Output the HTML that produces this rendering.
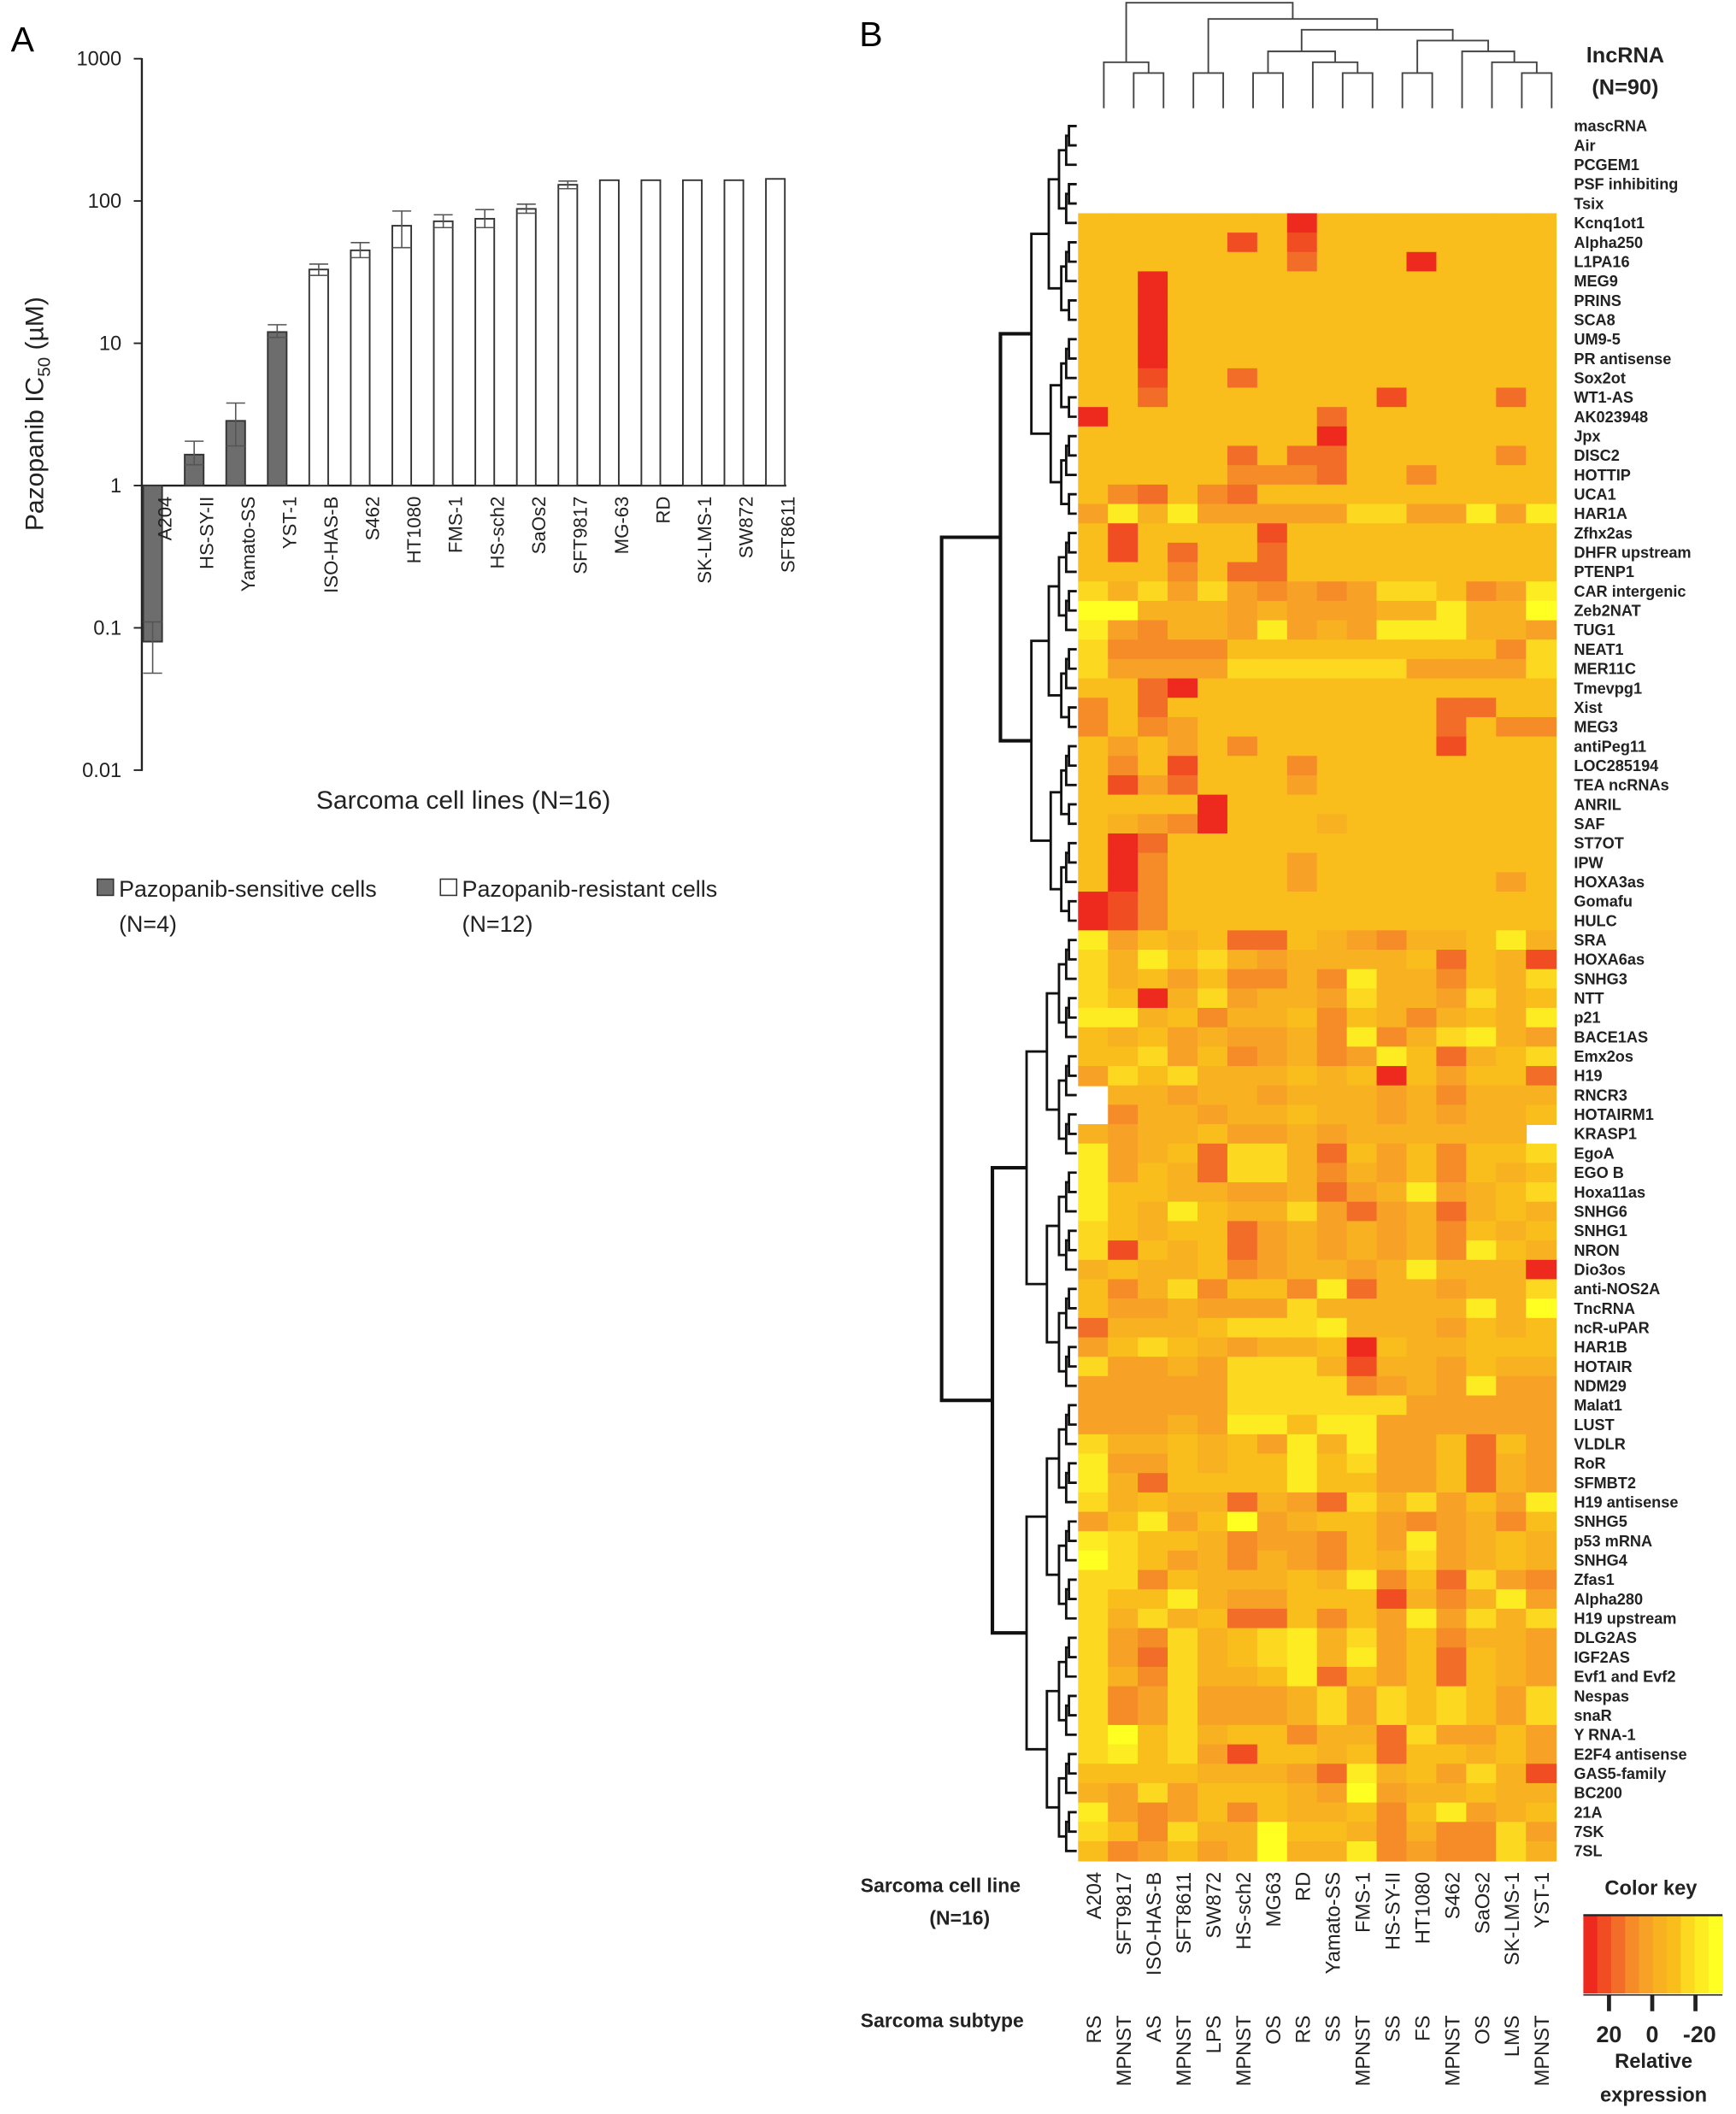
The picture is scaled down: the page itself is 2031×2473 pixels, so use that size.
<!DOCTYPE html>
<html><head><meta charset="utf-8"><style>
html,body{margin:0;padding:0;background:#fff;}
svg{display:block;}
text{font-family:"Liberation Sans",sans-serif;}
</style></head><body>
<svg id="fig" width="2031" height="2473" viewBox="0 0 1285 1563" preserveAspectRatio="none" xmlns="http://www.w3.org/2000/svg">
<rect width="1285" height="1563" fill="#fff"/>
<g id="pa"></g>
<g id="pb"></g>
</svg>
<script>
// ---------- Panel A data ----------
const cellLines = ["A204","HS-SY-II","Yamato-SS","YST-1","ISO-HAS-B","S462","HT1080","FMS-1","HS-sch2","SaOs2","SFT9817","MG-63","RD","SK-LMS-1","SW872","SFT8611"];
const ic50 = [0.08,1.65,2.85,12,33,45,67,72,75,88,130,140,140,140,140,143];
const errHi = [0.11,2.05,3.8,13.5,36,51,85,80,87,95,138,140,140,140,140,143];
const errLo = [0.048,1.4,1.9,11,30,40,47,65,65,82,122,140,140,140,140,143];
const sensitive = [1,1,1,1,0,0,0,0,0,0,0,0,0,0,0,0];
const yTicks = [1000,100,10,1,0.1,0.01];
const yTickLabels = ["1000","100","10","1","0.1","0.01"];

// ---------- Panel B data ----------
const hmCols = ["A204","SFT9817","ISO-HAS-B","SFT8611","SW872","HS-sch2","MG63","RD","Yamato-SS","FMS-1","HS-SY-II","HT1080","S462","SaOs2","SK-LMS-1","YST-1"];
const hmSubtypes = ["RS","MPNST","AS","MPNST","LPS","MPNST","OS","RS","SS","MPNST","SS","FS","MPNST","OS","LMS","MPNST"];
const hmRows = ["mascRNA","Air","PCGEM1","PSF inhibiting","Tsix","Kcnq1ot1","Alpha250","L1PA16","MEG9","PRINS","SCA8","UM9-5","PR antisense","Sox2ot","WT1-AS","AK023948","Jpx","DISC2","HOTTIP","UCA1","HAR1A","Zfhx2as","DHFR upstream","PTENP1","CAR intergenic","Zeb2NAT","TUG1","NEAT1","MER11C","Tmevpg1","Xist","MEG3","antiPeg11","LOC285194","TEA ncRNAs","ANRIL","SAF","ST7OT","IPW","HOXA3as","Gomafu","HULC","SRA","HOXA6as","SNHG3","NTT","p21","BACE1AS","Emx2os","H19","RNCR3","HOTAIRM1","KRASP1","EgoA","EGO B","Hoxa11as","SNHG6","SNHG1","NRON","Dio3os","anti-NOS2A","TncRNA","ncR-uPAR","HAR1B","HOTAIR","NDM29","Malat1","LUST","VLDLR","RoR","SFMBT2","H19 antisense","SNHG5","p53 mRNA","SNHG4","Zfas1","Alpha280","H19 upstream","DLG2AS","IGF2AS","Evf1 and Evf2","Nespas","snaR","Y RNA-1","E2F4 antisense","GAS5-family","BC200","21A","7SK","7SL"];
// expression level 0 (yellow, low) .. 9 (red, high); -1 = missing
const hmVals = [
[-1,-1,-1,-1,-1,-1,-1,-1,-1,-1,-1,-1,-1,-1,-1,-1],
[-1,-1,-1,-1,-1,-1,-1,-1,-1,-1,-1,-1,-1,-1,-1,-1],
[-1,-1,-1,-1,-1,-1,-1,-1,-1,-1,-1,-1,-1,-1,-1,-1],
[-1,-1,-1,-1,-1,-1,-1,-1,-1,-1,-1,-1,-1,-1,-1,-1],
[-1,-1,-1,-1,-1,-1,-1,-1,-1,-1,-1,-1,-1,-1,-1,-1],
[3,3,3,3,3,3,3,9,3,3,3,3,3,3,3,3],
[3,3,3,3,3,8,3,8,3,3,3,3,3,3,3,3],
[3,3,3,3,3,3,3,7,3,3,3,9,3,3,3,3],
[3,3,9,3,3,3,3,3,3,3,3,3,3,3,3,3],
[3,3,9,3,3,3,3,3,3,3,3,3,3,3,3,3],
[3,3,9,3,3,3,3,3,3,3,3,3,3,3,3,3],
[3,3,9,3,3,3,3,3,3,3,3,3,3,3,3,3],
[3,3,9,3,3,3,3,3,3,3,3,3,3,3,3,3],
[3,3,8,3,3,7,3,3,3,3,3,3,3,3,3,3],
[3,3,7,3,3,3,3,3,3,3,8,3,3,3,7,3],
[9,3,3,3,3,3,3,3,7,3,3,3,3,3,3,3],
[3,3,3,3,3,3,3,3,9,3,3,3,3,3,3,3],
[3,3,3,3,3,7,3,7,7,3,3,3,3,3,6,3],
[3,3,3,3,3,6,6,6,7,3,3,6,3,3,3,3],
[3,6,7,3,6,7,3,3,3,3,3,3,3,3,3,3],
[5,1,4,1,5,5,5,5,5,2,2,5,5,1,5,1],
[3,8,3,3,3,3,8,3,3,3,3,3,3,3,3,3],
[3,8,3,7,3,3,7,3,3,3,3,3,3,3,3,3],
[3,3,3,6,3,7,7,3,3,3,3,3,3,3,3,3],
[2,4,2,5,2,5,6,5,6,5,2,2,3,6,5,1],
[0,0,4,4,4,5,4,5,5,5,4,4,1,4,4,0],
[1,5,6,4,4,5,1,5,4,5,1,1,1,4,4,5],
[2,6,6,6,6,3,3,3,3,3,3,3,3,3,6,2],
[2,5,5,5,5,2,2,2,2,2,2,5,5,5,5,2],
[3,3,7,9,3,3,3,3,3,3,3,3,3,3,3,3],
[6,3,7,3,3,3,3,3,3,3,3,3,7,7,3,3],
[6,3,6,5,3,3,3,3,3,3,3,3,7,3,6,6],
[3,5,3,5,3,6,3,3,3,3,3,3,8,3,3,3],
[3,6,3,8,3,3,3,6,3,3,3,3,3,3,3,3],
[3,8,5,7,3,3,3,5,3,3,3,3,3,3,3,3],
[3,3,3,3,9,3,3,3,3,3,3,3,3,3,3,3],
[3,4,5,6,9,3,3,3,4,3,3,3,3,3,3,3],
[3,9,7,3,3,3,3,3,3,3,3,3,3,3,3,3],
[3,9,6,3,3,3,3,5,3,3,3,3,3,3,3,3],
[3,9,6,3,3,3,3,5,3,3,3,3,3,3,5,3],
[9,8,6,3,3,3,3,3,3,3,3,3,3,3,3,3],
[9,8,6,3,3,3,3,3,3,3,3,3,3,3,3,3],
[1,5,3,4,3,7,7,3,4,5,6,4,4,3,1,4],
[2,4,1,3,2,4,5,4,4,4,4,3,7,3,4,8],
[2,4,3,5,3,6,6,4,6,1,4,4,6,3,4,2],
[2,3,9,4,2,5,4,4,5,2,4,4,5,2,4,3],
[1,1,4,3,6,4,4,3,6,3,4,6,4,3,4,1],
[3,4,3,5,4,5,5,4,6,1,6,4,2,1,4,5],
[3,3,2,5,3,6,5,4,6,5,1,3,7,4,3,2],
[5,2,3,2,4,4,4,3,4,3,9,3,5,3,3,7],
[-1,4,4,5,4,4,5,4,4,4,5,4,6,4,4,4],
[-1,6,4,4,5,4,4,3,4,4,5,4,5,4,4,3],
[4,5,4,4,3,5,5,4,5,4,4,4,4,4,4,-1],
[1,5,4,3,7,2,2,4,7,3,5,3,6,3,3,2],
[1,5,3,4,7,2,2,4,6,4,5,3,6,3,4,3],
[1,3,3,4,4,5,5,4,7,5,4,1,5,4,3,2],
[1,3,4,1,3,4,4,2,5,7,5,4,7,4,3,4],
[2,3,4,3,3,7,5,4,5,4,5,4,6,3,4,3],
[2,8,3,4,3,7,5,4,5,4,5,4,6,1,3,4],
[4,3,4,4,3,6,5,4,4,5,4,1,4,4,4,9],
[3,6,4,2,6,3,3,6,1,7,4,4,5,4,4,2],
[3,5,5,4,5,5,5,2,4,4,4,4,4,1,4,0],
[7,4,4,4,3,2,2,2,1,4,4,4,5,3,4,3],
[5,3,2,3,4,5,4,4,3,9,3,4,4,3,3,3],
[2,5,5,4,5,2,2,2,4,8,4,4,5,3,4,4],
[5,5,5,5,5,2,2,2,2,6,5,4,5,1,5,5],
[5,5,5,5,5,2,2,2,2,2,2,5,5,5,5,5],
[5,5,5,4,5,1,1,3,1,1,5,5,5,5,5,5],
[2,4,4,3,4,3,5,1,4,1,5,5,3,7,3,5],
[1,5,5,3,4,3,3,1,3,2,5,5,3,7,4,5],
[1,4,7,3,3,3,3,1,3,3,5,5,3,7,4,5],
[2,4,3,4,4,7,4,5,7,2,4,2,5,3,5,1],
[5,3,1,5,3,0,5,4,3,3,5,6,5,4,6,3],
[1,2,3,3,4,6,5,5,6,3,5,1,5,4,3,4],
[0,2,3,5,4,6,4,5,6,3,4,2,5,4,3,4],
[2,2,6,3,4,4,4,3,4,1,6,3,7,2,5,6],
[2,3,3,1,4,5,5,3,3,3,8,4,6,4,1,5],
[2,4,2,4,3,7,7,3,6,3,5,1,5,2,4,2],
[2,5,6,2,4,3,2,1,4,2,5,3,6,4,4,5],
[2,5,7,2,4,3,2,1,4,1,5,3,7,3,4,5],
[2,4,6,2,4,4,3,1,7,3,5,3,7,3,4,5],
[2,6,5,2,5,5,5,4,2,5,2,3,2,3,5,2],
[2,6,5,2,5,5,5,4,2,5,2,3,2,3,5,2],
[2,0,3,2,4,3,3,6,4,4,7,2,5,5,3,5],
[2,1,3,2,5,8,3,3,4,3,7,3,3,4,3,5],
[3,3,3,3,4,4,4,5,7,1,4,3,5,2,4,8],
[4,5,2,5,3,3,3,4,5,0,5,4,4,3,4,4],
[1,5,6,5,3,6,3,4,4,3,6,3,1,5,4,3],
[2,3,6,2,4,4,0,3,3,4,6,4,6,6,2,5],
[3,6,5,3,5,4,0,4,4,1,6,5,6,6,2,4]
];
const keyTicks = [20,0,-20];

const NS="http://www.w3.org/2000/svg";
function mk(parent,tag,attrs,txt){const e=document.createElementNS(NS,tag);for(const k in attrs)e.setAttribute(k,attrs[k]);if(txt!==undefined)e.textContent=txt;parent.appendChild(e);return e;}
const pa=document.getElementById('pa'), pb=document.getElementById('pb');

// ===== Panel A =====
const yA = v => 359 - 105.2*Math.log10(v);
const xA = i => 113 + i*30.73;
let t=mk(pa,'text',{x:8,y:38,'font-size':26});t.textContent='A';


mk(pa,'line',{x1:105,y1:43,x2:105,y2:570,stroke:'#222','stroke-width':1.5});
mk(pa,'line',{x1:105,y1:359,x2:582,y2:359,stroke:'#222','stroke-width':1.5});
yTicks.forEach((v,i)=>{
  const y=yA(v);
  mk(pa,'line',{x1:99,y1:y,x2:105,y2:y,stroke:'#222','stroke-width':1.2});
  const tl=mk(pa,'text',{x:90,y:y+5,'font-size':15,'text-anchor':'end',fill:'#222'},yTickLabels[i]);
  
  
});
t=mk(pa,'text',{transform:'translate(32,306) rotate(-90)','font-size':19,'text-anchor':'middle',fill:'#222'});
t.innerHTML='Pazopanib IC<tspan font-size="13" dy="5">50</tspan><tspan dy="-5"> (µM)</tspan>';


cellLines.forEach((n,i)=>{
  const cx=xA(i), v=ic50[i], y=yA(v), base=359;
  const r=mk(pa,'rect',{x:cx-7,y:Math.min(y,base),width:14,height:Math.abs(base-y),fill:sensitive[i]?'#6d6d6d':'#fff',stroke:'#333','stroke-width':1.2});
  
  
  const yh=yA(errHi[i]), yl=yA(errLo[i]);
  if(Math.abs(yh-yl)>0.5){
    mk(pa,'line',{x1:cx,y1:yh,x2:cx,y2:yl,stroke:'#555','stroke-width':1});
    mk(pa,'line',{x1:cx-7,y1:yh,x2:cx+7,y2:yh,stroke:'#555','stroke-width':1});
    mk(pa,'line',{x1:cx-7,y1:yl,x2:cx+7,y2:yl,stroke:'#555','stroke-width':1});
  }
  const lb=mk(pa,'text',{transform:`translate(${cx+14},367) rotate(-90)`,'font-size':14,'text-anchor':'end',fill:'#222'},n);
  
  
});
t=mk(pa,'text',{x:343,y:598,'font-size':19,'text-anchor':'middle',fill:'#222'},'Sarcoma cell lines (N=16)');


[[72,'#6d6d6d','Pazopanib-sensitive cells','(N=4)'],[326,'#fff','Pazopanib-resistant cells','(N=12)']].forEach(l=>{
  const g=mk(pa,'g',{});
  
  
  mk(g,'rect',{x:l[0],y:650,width:12,height:12,fill:l[1],stroke:'#333','stroke-width':1});
  mk(g,'text',{x:l[0]+16,y:663,'font-size':17,fill:'#222'},l[2]);
  mk(g,'text',{x:l[0]+16,y:689,'font-size':17,fill:'#222'},l[3]);
});

// ===== Panel B =====
t=mk(pb,'text',{x:636,y:34,'font-size':26});t.textContent='B';


const HX=798, CW=22.1, HY=86, RH=14.33;
const pal=['#FFFF22','#FEEC22','#FCD820','#F9BE1C','#F8B120','#F7A226','#F58C28','#F26E28','#F04E22','#EE2A1E'];
const colX=j=>HX+j*CW, rowY=i=>HY+i*RH;
hmVals.forEach((row,i)=>{
  row.forEach((v,j)=>{
    if(v<0)return;
    const c=mk(pb,'rect',{x:colX(j),y:rowY(i),width:CW+0.6,height:RH+0.6,fill:pal[Math.max(0,Math.min(9,Math.round(v)))]});
    
    
  });
  const lb=mk(pb,'text',{x:1165,y:rowY(i)+RH/2+4,'font-size':11.5,'font-weight':'bold',fill:'#222'},hmRows[i]);
  
  
});
hmCols.forEach((n,j)=>{
  const cx=colX(j)+CW/2;
  const a=mk(pb,'text',{transform:`translate(${cx+6},1384) rotate(-90)`,'font-size':15,'text-anchor':'end',fill:'#222'},n);
  
  
  const b=mk(pb,'text',{transform:`translate(${cx+6},1490) rotate(-90)`,'font-size':15,'text-anchor':'end',fill:'#222'},hmSubtypes[j]);
  
  
});
[['lncRNA',1203,46],['(N=90)',1203,70]].forEach(s=>{const e=mk(pb,'text',{x:s[1],y:s[2],'font-size':16,'font-weight':'bold','text-anchor':'middle',fill:'#222'},s[0]);});
[['Sarcoma cell line',637,1399],['(N=16)',688,1423],['Sarcoma subtype',637,1499]].forEach(s=>{const e=mk(pb,'text',{x:s[1],y:s[2],'font-size':14.5,'font-weight':'bold',fill:'#222'},s[0]);});

// top dendrogram
const topTree=[[0,[1,2]],[[3,4],[[[5,6],[7,[8,9]]],[[10,11],[12,[13,[14,15]]]]]]];
const topH={};
function drawTop(node,depth){
  if(typeof node==='number')return {x:colX(node)+CW/2+8,y:80};
  const a=drawTop(node[0],depth+1), b=drawTop(node[1],depth+1);
  const y=Math.min(a.y,b.y)-(a.y===80&&b.y===80?26:8)-(depth===0?4:0);
  mk(pb,'path',{d:`M${a.x},${a.y}V${y}H${b.x}V${b.y}`,fill:'none',stroke:'#444','stroke-width':1.2});
  return {x:(a.x+b.x)/2,y};
}
const tg=drawTop(topTree,0);

// left dendrogram (approximate structure)
function drawLeft(lo,hi,splitAt){
  if(lo===hi)return {x:797,y:rowY(lo)+RH/2};
  const size=hi-lo+1;
  const mid=splitAt!==undefined?splitAt:Math.floor((lo+hi)/2);
  const a=drawLeft(lo,mid), b=drawLeft(mid+1,hi);
  const x=797-Math.max(4,100*Math.pow(size/90,0.75));
  const sw=size>30?2.6:1.8;
  mk(pb,'path',{d:`M${a.x},${a.y}H${x}V${b.y}H${b.x}`,fill:'none',stroke:'#111','stroke-width':sw});
  return {x,y:(a.y+b.y)/2};
}
const lg=drawLeft(0,89,41);

// color key
const kg=mk(pb,'g',{});


mk(kg,'text',{x:1222,y:1401,'font-size':15,'font-weight':'bold','text-anchor':'middle',fill:'#222'},'Color key');
for(let k=0;k<10;k++){
  mk(kg,'rect',{x:1172+k*10.3,y:1416,width:10.8,height:58,fill:pal[9-k]});
}
mk(kg,'line',{x1:1172,y1:1416,x2:1275,y2:1416,stroke:'#222','stroke-width':1.5});
mk(kg,'line',{x1:1172,y1:1475,x2:1275,y2:1475,stroke:'#222','stroke-width':1});
const kx=v=>1223-v*1.6;
keyTicks.forEach(v=>{
  mk(kg,'line',{x1:kx(v),y1:1475,x2:kx(v),y2:1487,stroke:'#222','stroke-width':3});
  mk(kg,'text',{x:kx(v)+(v<0?3:0),y:1510,'font-size':17,'font-weight':'bold','text-anchor':'middle',fill:'#222'},String(v));
});
mk(kg,'text',{x:1224,y:1529,'font-size':15,'font-weight':'bold','text-anchor':'middle',fill:'#222'},'Relative');
mk(kg,'text',{x:1224,y:1554,'font-size':15,'font-weight':'bold','text-anchor':'middle',fill:'#222'},'expression');
</script>
</body></html>
